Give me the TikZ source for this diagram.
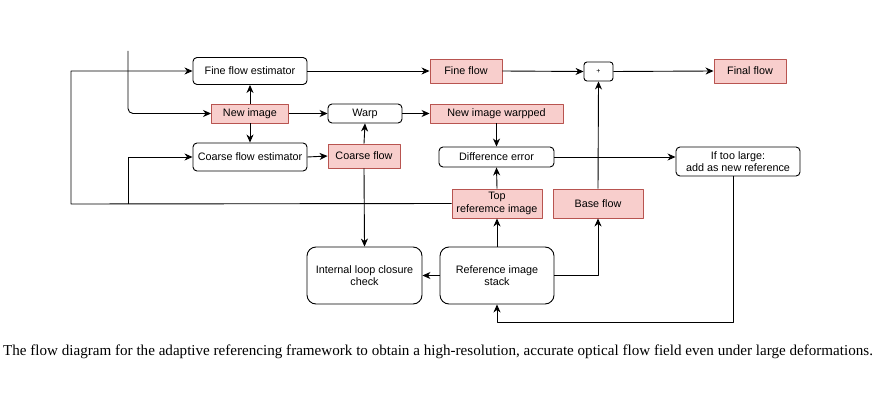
\documentclass[tikz,border=0pt]{standalone}
\usepackage{fontspec}
\setmainfont{Liberation Serif}
\newfontfamily\diagfont{Liberation Sans}
\usepackage[x11names, svgnames, rgb]{xcolor}
\usetikzlibrary{arrows.meta, positioning, calc}
\definecolor{pinkfill}{HTML}{F8CECC}
\definecolor{pinkline}{HTML}{B85450}

\begin{document}
\begin{tikzpicture}[x=1pt,y=-1pt,line join=bevel,
  >={Stealth[length=8pt,width=7pt,inset=2.5pt]},
  every node/.style={font=\diagfont\fontsize{10.8}{12.5}\selectfont, inner sep=0pt},
  procbox/.style={draw, rounded corners=4pt, fill=white, line width=0.9pt, align=center},
  databox/.style={draw=pinkline, fill=pinkfill, line width=0.9pt, align=center},
  link/.style={->, line width=0.9pt}]
  \useasboundingbox (0,0) rectangle (882,406);
%%
  % Node: fine
  \node[procbox, minimum width=114pt, minimum height=27pt] (fine) at (250,71) {Fine flow estimator};
  % Node: newimg
  \node[databox, minimum width=77pt, minimum height=19pt] (newimg) at (250,113.5) {New image};
  % Node: coarse
  \node[procbox, minimum width=114pt, minimum height=28pt] (coarse) at (250,157) {Coarse flow estimator};
  % Node: fineflow
  \node[databox, minimum width=72pt, minimum height=24pt] (fineflow) at (466,71) {Fine flow};
  % Node: plus
  \node[procbox, rounded corners=3pt, minimum width=29pt, minimum height=19pt, font=\diagfont\fontsize{7}{8}\selectfont] (plus) at (598.5,71.5) {+};
  % Node: final
  \node[databox, minimum width=72pt, minimum height=24pt] (final) at (750,71) {Final flow};
  % Node: warp
  \node[procbox, minimum width=74pt, minimum height=19pt] (warp) at (365,113.5) {Warp};
  % Node: newwarp
  \node[databox, minimum width=133pt, minimum height=19pt] (newwarp) at (496.5,113.5) {New image warpped};
  % Node: coarseflow
  \node[databox, minimum width=72pt, minimum height=24pt] (coarseflow) at (364,156) {Coarse flow};
  % Node: diff
  \node[procbox, minimum width=115pt, minimum height=20pt] (diff) at (496.5,157) {Difference error};
  % Node: large
  \node[procbox, minimum width=124pt, minimum height=29pt] (large) at (738,161.5) {If too large:\\add as new reference};
  % Node: topref
  \node[databox, minimum width=90pt, minimum height=29pt] (topref) at (497,203.5) {Top\\referemce image};
  % Node: base
  \node[databox, minimum width=90pt, minimum height=29pt] (base) at (598,203.5) {Base flow};
  % Node: loop
  \node[procbox, rounded corners=9pt, minimum width=115pt, minimum height=57pt] (loop) at (364.5,275.5) {Internal loop closure\\check};
  % Node: stack
  \node[procbox, rounded corners=9pt, minimum width=114pt, minimum height=57pt] (stack) at (497,275.5) {Reference image\\stack};
  % Corners of the feedback lines
  \coordinate (infeed) at (128,51);
  \coordinate (lx) at (71,204);
  \coordinate (mx) at (128,204);
  \coordinate (botc) at (733,322);
%%
  % Edge: infeed -- newimg
  \draw[link, rounded corners=5pt] (infeed) |- (newimg.west);
  % Edge: newimg -- fine
  \draw[link] (newimg.north) -- (fine.south);
  % Edge: newimg -- coarse
  \draw[link] (newimg.south) -- (coarse.north);
  % Edge: topref -- fine
  \draw[link] (topref.west) -- (lx) |- (fine.west);
  % Edge: topref -- coarse
  \draw[link] (mx) |- (coarse.west);
  % Edge: fine -- fineflow
  \draw[link] (fine.east) -- (fineflow.west);
  % Edge: fineflow -- plus
  \draw[link] (fineflow.east) -- (plus.west);
  % Edge: plus -- final
  \draw[link] (plus.east) -- (final.west);
  % Edge: newimg -- warp
  \draw[link] (newimg.east) -- (warp.west);
  % Edge: warp -- newwarp
  \draw[link] (warp.east) -- (newwarp.west);
  % Edge: coarse -- coarseflow
  \draw[link] (coarse.east) -- (coarseflow.west);
  % Edge: coarseflow -- warp
  \draw[link] (coarseflow.north) -- (warp.south);
  % Edge: coarseflow -- loop
  \draw[link] (coarseflow.south) -- (loop.north);
  % Edge: newwarp -- diff
  \draw[link] (newwarp.south) -- (diff.north);
  % Edge: topref -- diff
  \draw[link] (topref.north) -- (diff.south);
  % Edge: diff -- large
  \draw[link] (diff.east) -- (diff.east -| large.west);
  % Edge: large -- stack
  \draw[link] ([xshift=-5pt]large.south) -- (botc) -| (stack.south);
  % Edge: stack -- base
  \draw[link] (stack.east) -| (base.south);
  % Edge: base -- plus
  \draw[link] (base.north) -- (plus.south);
  % Edge: stack -- loop
  \draw[link] (stack.west) -- (loop.east);
  % Edge: stack -- topref
  \draw[link] (stack.north) -- (topref.south);
%%
  % Caption
  \node[font=\rmfamily\fontsize{15.1}{17}\selectfont, anchor=west] (caption) at (3,352) {The flow diagram for the adaptive referencing framework to obtain a high-resolution, accurate optical flow field even under large deformations.};
%
\end{tikzpicture}
\end{document}
